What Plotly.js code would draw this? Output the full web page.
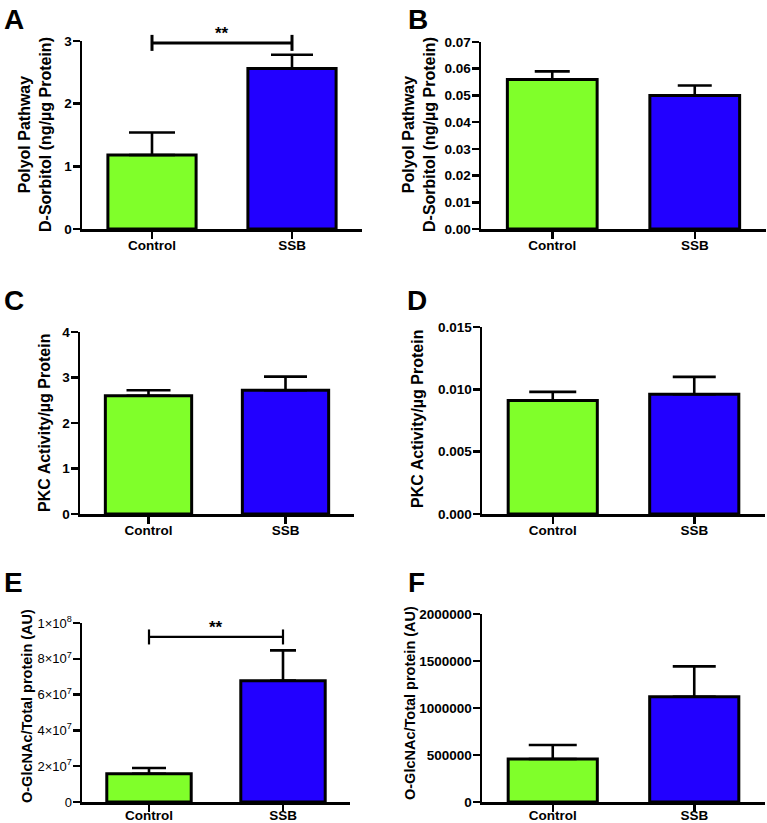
<!DOCTYPE html>
<html>
<head>
<meta charset="utf-8">
<script src="https://cdn.plot.ly/plotly-3.0.1.min.js"></script>
<style>html,body{margin:0;padding:0;background:#fff;}#chart{width:767px;height:823px;}</style>
</head>
<body>
<div id="chart"></div>
<script>
// ---- data ----
const categories = ['Control', 'SSB'];
const panelLetters = ['A', 'B', 'C', 'D', 'E', 'F'];

const sorbitolMeanA = [1.18, 2.56];
const sorbitolSemA  = [0.36, 0.22];
const sorbitolMeanB = [0.056, 0.050];
const sorbitolSemB  = [0.003, 0.0037];
const pkcMeanC = [2.60, 2.72];
const pkcSemC  = [0.12, 0.30];
const pkcMeanD = [0.0091, 0.0096];
const pkcSemD  = [0.0007, 0.0014];
const glcnacMeanE = [1.58e7, 6.78e7];
const glcnacSemE  = [0.32e7, 1.69e7];
const glcnacMeanF = [457000, 1120000];
const glcnacSemF  = [149000, 323000];

const tickValsE = [0, 2e7, 4e7, 6e7, 8e7, 1e8];
const tickTextE = ['0', '2×10<sup>7</sup>', '4×10<sup>7</sup>', '6×10<sup>7</sup>', '8×10<sup>7</sup>', '1×10<sup>8</sup>'];

const titleAB = 'Polyol Pathway<br>D-Sorbitol (ng/µg Protein)';
const titleCD = 'PKC Activity/µg Protein';
const titleEF = 'O-GlcNAc/Total protein (AU)';

const sigLevelA = 2.97;
const sigLevelE = 9.22e7;
const sigLabel = '**';

// ---- layout helpers ----
const W = 767, H = 823;
const fx = x => x / W;
const fy = y => 1 - y / H;
const FONT = 'Liberation Sans, Arial, Helvetica, sans-serif';
const barColors = ['#80FF2A', '#2200FF'];

const panels = [
  {mean: sorbitolMeanA, sem: sorbitolSemA, x: [82, 362], y: [41, 229], range: [0, 3], dtick: 1, fmt: '', caps: [23, 21], title: titleAB, tx: 35, ty: 135, letter: [2, 2], xstand: -5},
  {mean: sorbitolMeanB, sem: sorbitolSemB, x: [481, 766], y: [42, 229], range: [0, 0.07], dtick: 0.01, fmt: '.2f', caps: [17.5, 17], title: titleAB, tx: 419, ty: 135, letter: [406, 2], xstand: -5},
  {mean: pkcMeanC, sem: pkcSemC, x: [80, 354], y: [332, 514], range: [0, 4], dtick: 1, fmt: '', caps: [22, 21.5], title: titleCD, tx: 45, ty: 423, letter: [2, 283], xstand: -5},
  {mean: pkcMeanD, sem: pkcSemD, x: [482, 765], y: [327, 514], range: [0, 0.015], dtick: 0.005, fmt: '.3f', caps: [23.5, 21.5], title: titleCD, tx: 417, ty: 419, letter: [405, 283], xstand: -5},
  {mean: glcnacMeanE, sem: glcnacSemE, x: [82, 350], y: [623, 802], range: [0, 1e8], tickvals: tickValsE, ticktext: tickTextE, caps: [17, 13], title: titleEF, tx: 27, ty: 706, letter: [2, 565], light: true, xstand: -8},
  {mean: glcnacMeanF, sem: glcnacSemF, x: [482, 765], y: [614, 802], range: [0, 2e6], dtick: 500000, fmt: 'd', caps: [24, 21.5], title: titleEF, tx: 410, ty: 703, letter: [406, 565], xstand: -8}
];

const data = [];
const layout = {
  width: W, height: H,
  margin: {l: 0, r: 0, t: 0, b: 0},
  paper_bgcolor: '#fff', plot_bgcolor: '#fff',
  showlegend: false,
  barmode: 'overlay',
  font: {family: FONT, color: '#000'},
  shapes: [], annotations: []
};

panels.forEach((p, i) => {
  const n = i + 1;
  const xa = n === 1 ? 'x' : 'x' + n;
  const ya = n === 1 ? 'y' : 'y' + n;
  categories.forEach((c, j) => {
    data.push({
      type: 'bar', x: [c], y: [p.mean[j]], xaxis: xa, yaxis: ya, width: 0.63,
      marker: {color: barColors[j], line: {color: '#000', width: 3}},
      error_y: {type: 'data', symmetric: false, array: [p.sem[j]], arrayminus: [0], color: '#000', thickness: 2.6, width: p.caps[j]},
      hoverinfo: 'x+y'
    });
  });
  const xKey = n === 1 ? 'xaxis' : 'xaxis' + n;
  const yKey = n === 1 ? 'yaxis' : 'yaxis' + n;
  layout[xKey] = {
    domain: [fx(p.x[0]), fx(p.x[1])], anchor: ya,
    type: 'category', range: [-0.5, 1.5],
    showline: true, linecolor: '#000', linewidth: 2.5,
    ticks: 'outside', ticklen: 7, tickwidth: 2.5, tickcolor: '#000',
    ticklabelstandoff: p.xstand,
    showgrid: false, zeroline: false,
    tickfont: {family: FONT, size: 13.5, weight: 'bold', color: '#000'}
  };
  const yax = {
    domain: [fy(p.y[1]), fy(p.y[0])], anchor: xa,
    range: p.range,
    showline: true, linecolor: '#000', linewidth: 2.5,
    ticks: 'outside', ticklen: 7, tickwidth: 2.5, tickcolor: '#000',
    ticklabelstandoff: -2,
    showgrid: false, zeroline: false,
    tickfont: {family: FONT, size: p.light ? 13 : 13.5, weight: p.light ? 'normal' : 'bold', color: '#000'}
  };
  if (p.tickvals) { yax.tickmode = 'array'; yax.tickvals = p.tickvals; yax.ticktext = p.ticktext; }
  else { yax.tickmode = 'linear'; yax.tick0 = 0; yax.dtick = p.dtick; if (p.fmt) yax.tickformat = p.fmt; }
  layout[yKey] = yax;

  layout.annotations.push({
    xref: 'paper', yref: 'paper', x: fx(p.tx), y: fy(p.ty), xanchor: 'center', yanchor: 'middle',
    text: p.title, textangle: -90, showarrow: false,
    font: {family: FONT, size: n >= 5 ? 14.5 : 16, weight: 'bold', color: '#000'}
  });
  layout.annotations.push({
    xref: 'paper', yref: 'paper', x: fx(p.letter[0]), y: fy(p.letter[1]), xanchor: 'left', yanchor: 'top',
    text: panelLetters[i], showarrow: false,
    font: {family: FONT, size: 28, weight: 'bold', color: '#000'}
  });
});

function addBracket(panelIdx, level, lw, halfTick) {
  const p = panels[panelIdx];
  const n = panelIdx + 1;
  const xa = n === 1 ? 'x' : 'x' + n;
  const ya = n === 1 ? 'y' : 'y' + n;
  const frac = level / p.range[1];
  const dh = halfTick / (p.y[1] - p.y[0]);
  const line = {color: '#000', width: lw};
  layout.shapes.push({type: 'line', xref: xa, yref: ya + ' domain', x0: 0, x1: 1, y0: frac, y1: frac, line: line});
  layout.shapes.push({type: 'line', xref: xa, yref: ya + ' domain', x0: 0, x1: 0, y0: frac - dh, y1: frac + dh, line: line});
  layout.shapes.push({type: 'line', xref: xa, yref: ya + ' domain', x0: 1, x1: 1, y0: frac - dh, y1: frac + dh, line: line});
  layout.annotations.push({
    xref: xa, yref: ya + ' domain', x: 0.5, y: frac, xanchor: 'center', yanchor: 'bottom', yshift: -2,
    text: sigLabel, showarrow: false, font: {family: FONT, size: 17, weight: 'bold', color: '#000'}
  });
}
addBracket(0, sigLevelA, 3, 8);
addBracket(4, sigLevelE, 2.2, 7.5);

Plotly.newPlot('chart', data, layout, {staticPlot: true});
</script>
</body>
</html>
